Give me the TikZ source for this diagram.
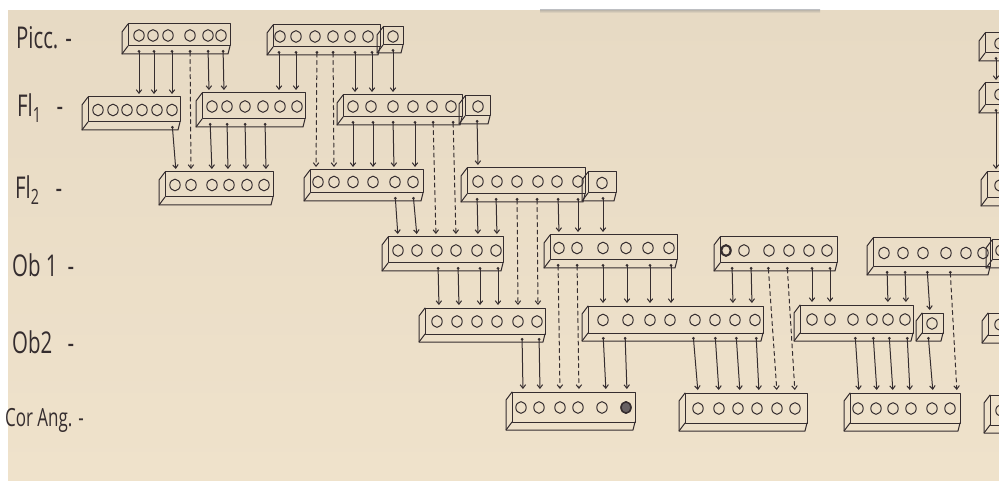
\documentclass[tikz,border=0pt]{standalone}
\usepackage{fontspec}
\setmainfont{Open Sans}
\usetikzlibrary{arrows.meta,calc}
\definecolor{paper}{HTML}{EFE2CB}
\definecolor{paperdark}{HTML}{E7DAC4}
\definecolor{ink}{HTML}{352D2F}
\tikzset{
  inkline/.style={draw=ink, line width=1pt, line join=round, line cap=round},
  barbox/.style={inkline, rectangle, inner sep=0pt, outer sep=0pt},
  link/.style={inkline, {Circle[open,length=2.6pt,width=2.6pt]}-{Straight Barb[length=3.5pt,width=5.5pt]}, shorten <=4pt, shorten >=3pt},
  dlink/.style={link, dash pattern=on 4pt off 3.5pt},
  lbl/.style={font=\fontsize{30}{30}\selectfont, text=ink, anchor=west, inner sep=0pt, xscale=0.68},
}
% name, x1, y1, x2, y2, circle x-list
\newcommand\pbox[6]{%
  \node[barbox, minimum width={#4-#2}, minimum height={#5-#3}, anchor=north west] (#1) at (#2,#3) {};
  \draw[inkline] (#1.north west) -- ++(-6,8) -- ($(#1.south west)+(-6,8)$) -- ($(#1.south east)+(-2,8)$) -- (#1.south east);
  \draw[inkline] (#1.south west) -- ($(#1.south west)+(-6,8)$);
  \foreach \cx in {#6} \draw[inkline] (\cx,{(#3+#5)/2+0.5}) ellipse (5.2pt and 5.8pt);
}
% [style] from, x-start, x-end, to
\newcommand\conn[5][link]{\draw[#1] (#2.south -| #3,0) -- (#5.north -| #4,0);}
\begin{document}
\begin{tikzpicture}[x=1pt,y=-1pt]
\useasboundingbox (0,0) rectangle (999,481);
\fill[white] (0,0) rectangle (999,481);
\shade[top color=paperdark, bottom color=paper] (8,11) rectangle (999,481);
\shade[top color=black!45, bottom color=paperdark, opacity=0.45] (540,10) rectangle (820,13);
\clip (0,0) rectangle (999,481);

% row labels
\node[lbl] (lP) at (16,38) {Picc. -};
\node[lbl] (lF1) at (17,108) {Fl\textsubscript{1}\hspace{0.75em}-};
\node[lbl] (lF2) at (15,190) {Fl\textsubscript{2}\hspace{0.8em}-};
\node[lbl] (lO1) at (12,265) {Ob 1\hspace{0.5em}-};
\node[lbl] (lO2) at (12,342) {Ob2\hspace{0.75em}-};
\node[lbl, font=\fontsize{25}{25}\selectfont] (lC) at (5,420) {Cor Ang. -};

% Picc.
\pbox{pA}{128}{24}{230}{46}{139,153,168,190,208,221}
\pbox{pB}{273}{25}{380}{47}{280,296,315,333,350,368}
\pbox{pC}{383}{27}{403}{45}{393}
% Fl 1
\pbox{fA}{88}{97}{180}{122}{98,113,127,142,157,172}
\pbox{fB}{202}{93}{305}{119}{212,227,245,263,280,297}
\pbox{fC}{343}{95}{462}{117}{353,371,393,413,432,451}
\pbox{fD}{465}{96}{490}{116}{478}
% Fl 2
\pbox{gA}{165}{172}{273}{197}{175,191,212,229,247,264}
\pbox{gB}{310}{170}{423}{193}{318,334,353,373,395,413}
\pbox{gC}{467}{168}{585}{194}{478,497,517,538,557,578}
\pbox{gD}{588}{172}{616}{193}{602}
% Ob 1
\pbox{oA}{388}{237}{503}{263}{398,417,437,456,477,496}
\pbox{oB}{550}{235}{677}{260}{559,577,603,626,648,669}
\pbox{oC}{720}{237}{837}{263}{726,744,769,789,809,827}
\pbox{oD}{873}{238}{990}{267}{884,903,923,946,966,983}
\pbox{oE}{992}{240}{1012}{260}{1001}
% Ob 2
\pbox{qA}{425}{308}{545}{334}{437,457,477,497,518,537}
\pbox{qB}{588}{306}{763}{333}{603,628,650,670,695,715,735,755}
\pbox{qC}{800}{305}{913}{333}{812,830,853,872,888,905}
\pbox{qD}{922}{313}{943}{333}{932}
\pbox{qE}{988}{313}{1010}{335}{1000}
% Cor Ang.
\pbox{cA}{512}{392}{635}{422}{521,539,560,578,602,626}
\pbox{cB}{685}{393}{807}{423}{698,719,738,757,777,795}
\pbox{cC}{850}{393}{960}{423}{858,876,893,911,932,950}
\pbox{cE}{990}{395}{1012}{425}{1001}
% right column
\pbox{rP}{985}{33}{1010}{53}{1000}
\pbox{rF}{985}{83}{1010}{105}{1000}
\pbox{rG}{987}{172}{1010}{198}{1000}

% marked circles
\draw[ink, line width=1.8pt] (726,250.5) ellipse (4.6pt and 5.2pt);
\filldraw[draw=ink, fill=ink!75, line width=1.4pt] (626,407.5) ellipse (5pt and 5.6pt);

% Picc -> Fl1 / Fl2
\conn{pA}{139}{139}{fA}
\conn{pA}{154}{154}{fA}
\conn{pA}{172}{172}{fA}
\conn[dlink]{pA}{190}{191}{gA}
\conn{pA}{208}{209}{fB}
\conn{pA}{223}{224}{fB}
\conn{pB}{279}{279}{fB}
\conn{pB}{296}{296}{fB}
\conn[dlink]{pB}{317}{316}{gB}
\conn[dlink]{pB}{333}{334}{gB}
\conn{pB}{355}{355}{fC}
\conn{pB}{372}{372}{fC}
\conn{pC}{393}{393}{fC}
% Fl1 -> Fl2 / Ob1
\conn{fA}{172}{176}{gA}
\conn{fB}{210}{212}{gA}
\conn{fB}{227}{228}{gA}
\conn{fB}{245}{246}{gA}
\conn{fB}{265}{266}{gA}
\conn{fC}{353}{353}{gB}
\conn{fC}{373}{373}{gB}
\conn{fC}{393}{394}{gB}
\conn{fC}{415}{415}{gB}
\conn[dlink]{fC}{433}{436}{oA}
\conn[dlink]{fC}{453}{456}{oA}
\conn{fD}{477}{478}{gC}
% Fl2 -> Ob1 / Ob2
\conn{gB}{395}{398}{oA}
\conn{gB}{413}{417}{oA}
\conn{gC}{477}{478}{oA}
\conn{gC}{496}{497}{oA}
\conn[dlink]{gC}{517}{518}{qA}
\conn[dlink]{gC}{537}{538}{qA}
\conn{gC}{558}{559}{oB}
\conn{gC}{578}{578}{oB}
\conn{gD}{603}{603}{oB}
% Ob1 -> Ob2 / Cor Ang
\conn{oA}{438}{439}{qA}
\conn{oA}{458}{459}{qA}
\conn{oA}{480}{480}{qA}
\conn{oA}{498}{498}{qA}
\conn[dlink]{oB}{558}{560}{cA}
\conn[dlink]{oB}{577}{579}{cA}
\conn{oB}{603}{603}{qB}
\conn{oB}{627}{627}{qB}
\conn{oB}{650}{650}{qB}
\conn{oB}{671}{671}{qB}
\conn{oC}{732}{733}{qB}
\conn{oC}{751}{752}{qB}
\conn[dlink]{oC}{768}{777}{cB}
\conn[dlink]{oC}{787}{795}{cB}
\conn{oC}{812}{812}{qC}
\conn{oC}{830}{830}{qC}
\conn{oD}{887}{888}{qC}
\conn{oD}{905}{906}{qC}
\conn{oD}{927}{930}{qD}
\conn[dlink]{oD}{950}{957}{cC}
% Ob2 -> Cor Ang
\conn{qA}{522}{523}{cA}
\conn{qA}{539}{540}{cA}
\conn{qB}{603}{606}{cA}
\conn{qB}{625}{627}{cA}
\conn{qB}{693}{698}{cB}
\conn{qB}{715}{719}{cB}
\conn{qB}{736}{740}{cB}
\conn{qB}{756}{759}{cB}
\conn{qC}{855}{859}{cC}
\conn{qC}{873}{877}{cC}
\conn{qC}{889}{893}{cC}
\conn{qC}{907}{910}{cC}
\conn{qD}{928}{933}{cC}
% right column
\conn{rP}{996}{996}{rF}
\conn{rF}{996}{996}{rG}
\end{tikzpicture}
\end{document}
